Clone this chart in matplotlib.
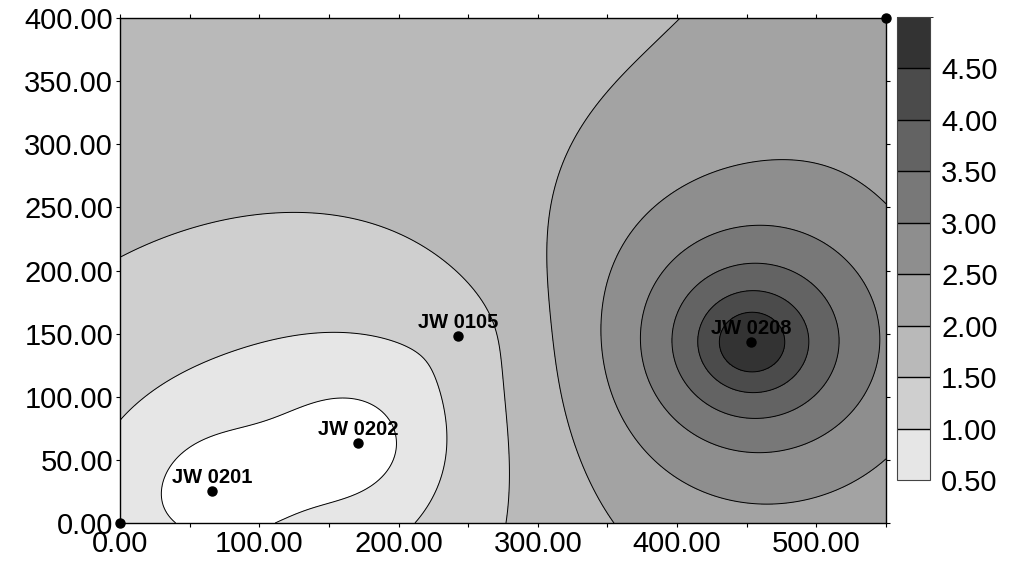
import numpy as np
import matplotlib
matplotlib.use('Agg')
import matplotlib.pyplot as plt
from matplotlib.colors import ListedColormap, BoundaryNorm
from matplotlib.cm import ScalarMappable

plt.rcParams['font.family'] = ['Liberation Sans', 'DejaVu Sans']

well_names = ['JW 0201', 'JW 0202', 'JW 0105', 'JW 0208']
well_x = [66, 171, 243, 453]
well_y = [25, 63, 148, 143]
well_z = [0.0, 0.0, 1.15, 5.4]

# grid corner points (also posted on the map)
corner_x = [0, 550]
corner_y = [0, 400]
corner_z = [0.75, 2.5]

# gridding settings: simple kriging, exponential covariance
krig_mean = 1.75
krig_range = 85.0

levels = [0.5, 1.0, 1.5, 2.0, 2.5, 3.0, 3.5, 4.0, 4.5, 5.0]
band_colors = ['#e6e6e6', '#cfcfcf', '#b9b9b9', '#a3a3a3', '#8e8e8e',
               '#787878', '#636363', '#4b4b4b', '#333333']

x_ticks = list(range(0, 551, 50))
y_ticks = list(range(0, 401, 50))

px = np.array(well_x + corner_x, float)
py = np.array(well_y + corner_y, float)
pz = np.array(well_z + corner_z, float)

gx = np.linspace(0, 550, 276)
gy = np.linspace(0, 400, 201)
GX, GY = np.meshgrid(gx, gy)
C = np.exp(-np.hypot(px[:, None] - px[None, :], py[:, None] - py[None, :]) / krig_range)
c = np.exp(-np.hypot(px[:, None] - GX.ravel()[None, :],
                     py[:, None] - GY.ravel()[None, :]) / krig_range)
lam = np.linalg.solve(C, c)
Z = (krig_mean + (lam * (pz - krig_mean)[:, None]).sum(axis=0)).reshape(GX.shape)

fig = plt.figure(figsize=(10.23, 5.61), dpi=100)
ax = fig.add_axes([120 / 1023, 1 - 523 / 561, 766 / 1023, 505 / 561])

fill_levels = [min(Z.min(), 0) - 1] + levels[:-1] + [max(Z.max(), 5) + 1]
ax.contourf(GX, GY, Z, levels=fill_levels, colors=['white'] + band_colors)
ax.contour(GX, GY, Z, levels=levels[:-1], colors='black', linewidths=0.7)

ax.plot(well_x, well_y, 'o', color='black', ms=6.5, clip_on=False, zorder=5)
ax.plot(corner_x, corner_y, 'o', color='black', ms=6.5, clip_on=False, zorder=5)
for name, x, y in zip(well_names, well_x, well_y):
    ax.annotate(name, (x, y), xytext=(0, 6), textcoords='offset points',
                ha='center', va='baseline', fontsize=14.5, fontweight='bold')

ax.set_xlim(0, 550)
ax.set_ylim(0, 400)
ax.set_xticks(x_ticks)
ax.set_xticklabels(['%.2f' % v if v % 100 == 0 else '' for v in x_ticks])
ax.set_yticks(y_ticks)
ax.set_yticklabels(['%.2f' % v for v in y_ticks])
ax.tick_params(direction='out', length=3, width=0.8, top=True, right=True,
               labelsize=21, pad=2)
for s in ax.spines.values():
    s.set_linewidth(1.0)

cax = fig.add_axes([897 / 1023, 1 - 480 / 561, 33 / 1023, 463 / 561])
cmap = ListedColormap(band_colors)
norm = BoundaryNorm(levels, cmap.N)
cb = fig.colorbar(ScalarMappable(norm=norm, cmap=cmap), cax=cax,
                  ticks=levels[:-1], drawedges=True)
cb.ax.set_yticklabels(['%.2f' % v for v in levels[:-1]])
cb.ax.tick_params(length=0, pad=8, labelsize=21)
cb.outline.set_linewidth(0.8)
cb.outline.set_edgecolor('#444444')
cb.dividers.set_linewidth(1.0)

fig.savefig('out.png', dpi=100)
